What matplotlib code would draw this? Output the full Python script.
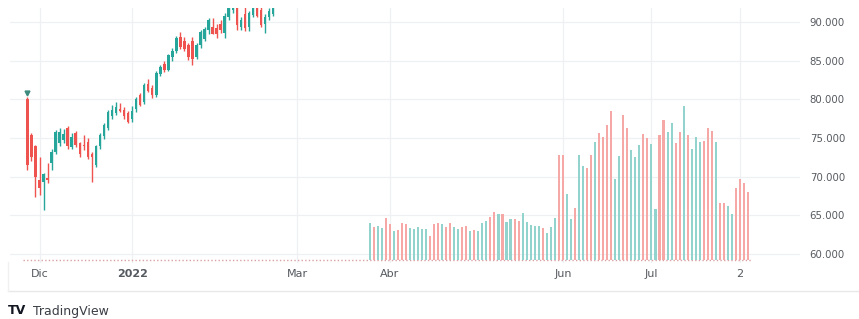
import matplotlib
matplotlib.use("Agg")
import matplotlib.pyplot as plt
from matplotlib.lines import Line2D
import numpy as np
import pandas as pd

# ---------------- data ----------------
candle_start = "2021-11-26"
candle_open = [80.1, 75.4, 73.9, 69.6, 69.3, 69.8, 71.7, 73.2, 74.3, 74.7,
               76.3, 73.8, 75.6, 74.3, 74.1, 74.5, 72.9, 71.5, 73.9, 75.2,
               76.3, 77.9, 78.2, 78.8, 78.6, 78.2, 77.4, 78.7, 80.5, 79.6,
               82.0, 81.4, 80.5, 83.3, 84.6, 83.8, 85.5, 86.2, 88.1, 87.6,
               87.0, 87.5, 85.5, 87.0, 87.8, 88.9, 89.4, 89.2, 89.8, 88.6,
               90.6, 91.5, 92.0, 89.3, 91.0, 89.3, 90.9, 92.2, 91.6, 89.8,
               90.6, 91.0]
candle_high = [80.3, 75.6, 74.1, 72.6, 70.5, 71.7, 73.6, 76.0, 76.3, 76.1,
               76.6, 75.6, 75.9, 74.5, 75.4, 75.0, 73.2, 74.1, 75.7, 77.0,
               78.6, 79.2, 79.7, 79.5, 79.0, 78.5, 79.1, 80.3, 80.8, 82.1,
               82.6, 81.8, 83.7, 84.4, 84.9, 85.9, 86.6, 88.2, 88.7, 88.0,
               87.3, 88.0, 87.3, 88.9, 89.4, 90.5, 90.5, 89.8, 90.3, 91.2,
               92.3, 93.0, 92.5, 90.6, 91.9, 91.4, 93.0, 92.7, 92.2, 91.0,
               91.8, 92.3]
candle_low = [70.9, 72.0, 67.4, 67.6, 65.7, 69.2, 70.8, 72.9, 73.9, 74.3,
              73.6, 73.6, 73.8, 72.5, 73.5, 72.3, 69.3, 71.2, 73.6, 74.9,
              76.0, 77.5, 78.0, 78.3, 77.4, 76.9, 77.1, 78.3, 79.1, 79.4,
              80.9, 80.2, 80.3, 83.0, 83.5, 83.6, 85.0, 86.0, 86.5, 86.2,
              85.1, 84.4, 85.2, 86.7, 87.5, 88.5, 88.4, 87.9, 88.6, 87.9,
              90.3, 91.2, 88.9, 89.0, 88.8, 88.8, 90.6, 90.6, 89.4, 88.6,
              90.2, 90.8]
candle_close = [71.5, 72.6, 70.0, 68.5, 70.4, 69.6, 73.2, 75.8, 75.8, 75.5,
                74.0, 75.1, 74.1, 72.9, 73.9, 72.6, 72.5, 73.9, 75.4, 76.7,
                78.4, 78.6, 79.0, 78.5, 77.8, 77.1, 78.5, 80.0, 79.3, 81.9,
                81.1, 80.5, 83.4, 84.2, 83.8, 85.7, 86.3, 87.9, 86.8, 86.5,
                85.5, 85.2, 87.0, 88.7, 89.1, 90.2, 88.5, 88.4, 89.0, 90.8,
                92.0, 92.6, 89.6, 90.2, 89.2, 91.1, 92.6, 90.8, 89.6, 90.7,
                91.4, 92.0]

bar_start = "2022-03-25"
bar_base = 59.2
bar_values = [63.97, 63.53, 63.66, 63.40, 64.69, 63.83, 62.97, 63.10, 64.05, 63.83,
              63.40, 63.23, 63.53, 63.23, 63.23, 62.36, 63.83, 63.97, 63.83, 63.53,
              64.05, 63.53, 63.23, 63.53, 63.66, 62.97, 63.10, 62.97, 64.05, 64.31,
              64.82, 65.47, 65.13, 65.13, 64.18, 64.48, 64.48, 64.31, 65.34, 64.18,
              63.75, 63.66, 63.62, 63.32, 62.67, 63.45, 64.61, 72.80, 72.80, 67.70,
              64.48, 66.00, 72.80, 71.38, 71.08, 72.80, 74.44, 75.60, 75.17, 76.68,
              78.53, 69.66, 72.67, 77.95, 76.25, 73.50, 72.50, 74.10, 75.52, 75.06,
              74.22, 65.78, 75.40, 77.33, 75.81, 76.90, 74.40, 75.81, 79.08, 75.40,
              73.54, 75.17, 74.52, 74.62, 76.34, 75.95, 74.52, 66.64, 66.64, 66.22,
              65.20, 68.54, 69.66, 69.18, 68.06]
# u = up (teal), d = down (red)
bar_dir = list("uduudduddd" "uuuuudddud" "duudduduuu" "dduduudduu" "uuuduuuddu"
               "uduudduddd" "duudduuudd" "uudduuddud" "uuuddduddu" "udddd")

marker_value = 80.85

tick_dates = ["2021-12-01", "2022-01-03", "2022-03-01", "2022-04-01",
              "2022-06-01", "2022-07-01", "2022-08-02"]
tick_labels = ["Dic", "2022", "Mar", "Abr", "Jun", "Jul", "2"]
y_ticks = [60, 65, 70, 75, 80, 85, 90]

# ---------------- layout ----------------
W, H = 859, 319
fig = plt.figure(figsize=(W / 100, H / 100), dpi=100)
ax = fig.add_axes([10 / W, 1 - 263 / H, 790 / W, 255 / H])

days = pd.bdate_range("2021-11-01", "2022-09-30")
origin = days.get_loc(pd.Timestamp("2021-12-01"))


def pos(d):
    return days.get_loc(pd.Timestamp(d)) - origin


UP = "#26a69a"
DN = "#ef5350"
UP_L = "#93d3cd"
DN_L = "#f6a8a7"

# candles
cx = np.arange(len(candle_open)) + pos(candle_start)
o = np.array(candle_open); c = np.array(candle_close)
hi = np.array(candle_high); lo = np.array(candle_low)
cols = np.where(c >= o, UP, DN)
ax.vlines(cx, lo, hi, colors=cols, lw=1.0, zorder=3)
ax.bar(cx, np.maximum(np.abs(c - o), 0.08), bottom=np.minimum(o, c), width=0.62,
       color=cols, zorder=4, linewidth=0)
ax.plot([cx[0]], [marker_value], marker="v", ms=3.5, color="#3d8a7f", zorder=5)

# bars
bx = np.arange(len(bar_values)) + pos(bar_start)
bv = np.array(bar_values)
bcols = [UP_L if d == "u" else DN_L for d in bar_dir]
ax.bar(bx, bv - bar_base, bottom=bar_base, width=0.52, color=bcols, linewidth=0, zorder=3)

# dotted baseline
ax.plot([cx[0] - 1, bx[-1] + 1], [bar_base, bar_base], ls=(0, (1, 1.6)), lw=1.0,
        color="#dba0a4", zorder=2)

ax.set_xlim(-7.33, 188.9)
ax.set_ylim(58.83, 91.81)

ax.set_xticks([pos(d) for d in tick_dates])
ax.set_xticklabels(tick_labels)
for lab in ax.get_xticklabels():
    if lab.get_text() == "2022":
        lab.set_fontweight("bold")
ax.set_yticks(y_ticks)
ax.set_yticklabels([f"{v:.3f}" for v in y_ticks])
ax.yaxis.tick_right()
ax.tick_params(axis="both", length=0, colors="#555a60")
ax.tick_params(axis="x", pad=4, labelsize=8)
ax.tick_params(axis="y", pad=7, labelsize=7.3)
ax.grid(True, color="#eef0f4", lw=0.9, zorder=0)
for s in ax.spines.values():
    s.set_visible(False)

# bottom time-scale box line
fig.add_artist(Line2D([8 / W, 1], [1 - 291 / H] * 2, color="#e8e8e8", lw=1.0))
fig.add_artist(Line2D([8 / W] * 2, [1 - 291 / H, 1 - 262 / H], color="#f0f0f0", lw=1.0))

# watermark
fig.text(8 / W, 1 - 311 / H, "TV", fontsize=9, fontweight="heavy", color="#131722",
         va="center", ha="left", family="DejaVu Sans")
fig.text(33 / W, 1 - 311 / H, "TradingView", fontsize=9, color="#3a3e45",
         va="center", ha="left", family="DejaVu Sans")

fig.savefig("out.png", dpi=100, facecolor="white")
